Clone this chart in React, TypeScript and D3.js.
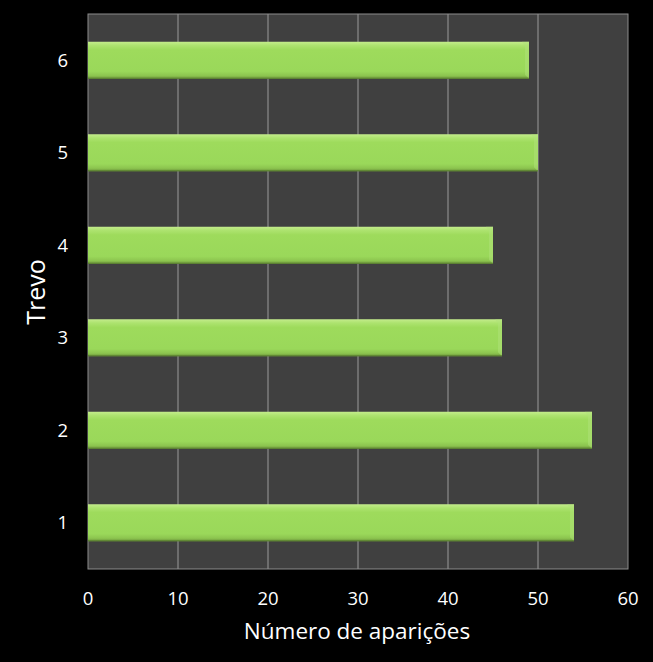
import { scaleBand, scaleLinear } from 'd3';

const categories = ['1', '2', '3', '4', '5', '6'];
const values = [54, 56, 46, 45, 50, 49];
const xTicks = [0, 10, 20, 30, 40, 50, 60];

export default function App() {
  const width = 653;
  const height = 662;
  const plot = { left: 88, right: 628, top: 14, bottom: 569 };

  const x = scaleLinear().domain([0, 60]).range([plot.left, plot.right]);
  const y = scaleBand()
    .domain(categories)
    .range([plot.bottom, plot.top])
    .paddingInner(0.6)
    .paddingOuter(0.3);

  const font = "'Open Sans', 'Noto Sans', sans-serif";

  return (
    <svg
      width={width}
      height={height}
      style={{ position: 'absolute', left: 0, top: 0, background: '#000' }}
    >
      <defs>
        <linearGradient id="barFill" x1="0" y1="0" x2="0" y2="1">
          <stop offset="0%" stopColor="#c4ec8c" />
          <stop offset="10%" stopColor="#ade36f" />
          <stop offset="22%" stopColor="#9edb5c" />
          <stop offset="80%" stopColor="#9ad85a" />
          <stop offset="92%" stopColor="#8cc44f" />
          <stop offset="100%" stopColor="#6a943a" />
        </linearGradient>
      </defs>
      <rect width={width} height={height} fill="#000" />
      {/* plot area */}
      <rect
        x={plot.left}
        y={plot.top}
        width={plot.right - plot.left}
        height={plot.bottom - plot.top}
        fill="#404040"
      />
      {xTicks.slice(1, -1).map((t) => (
        <line
          key={t}
          x1={x(t)}
          x2={x(t)}
          y1={plot.top}
          y2={plot.bottom}
          stroke="#9a9a9a"
          strokeWidth={1}
        />
      ))}
      <rect
        x={plot.left}
        y={plot.top}
        width={plot.right - plot.left}
        height={plot.bottom - plot.top}
        fill="none"
        stroke="#8c8c8c"
        strokeWidth={1}
      />
      {/* bars */}
      {categories.map((c, i) => {
        const by = y(c)!;
        const bh = y.bandwidth();
        const bx = x(0);
        const bw = x(values[i]) - x(0);
        return (
          <g key={c}>
            <rect x={bx} y={by} width={bw} height={bh} fill="url(#barFill)" />
            <polygon
              points={`${bx + bw - 7},${by} ${bx + bw},${by} ${bx + bw},${by + bh} ${bx + bw - 4},${by + bh - 4} ${bx + bw - 4},${by + 4}`}
              fill="#b0e27a"
              opacity={0.5}
            />
            <line
              x1={bx}
              x2={bx + bw}
              y1={by + bh - 0.5}
              y2={by + bh - 0.5}
              stroke="#5c8232"
              strokeWidth={1}
            />
          </g>
        );
      })}
      {/* y tick labels */}
      {categories.map((c) => (
        <text
          key={c}
          x={68}
          y={y(c)! + y.bandwidth() / 2}
          dy="0.36em"
          textAnchor="end"
          fill="#fff"
          fontFamily={font}
          fontSize={18.5}
        >
          {c}
        </text>
      ))}
      {/* x tick labels */}
      {xTicks.map((t) => (
        <text
          key={t}
          x={x(t)}
          y={605}
          textAnchor="middle"
          fill="#fff"
          fontFamily={font}
          fontSize={18.5}
        >
          {t}
        </text>
      ))}
      <text
        x={357}
        y={639}
        textAnchor="middle"
        fill="#fff"
        fontFamily={font}
        fontSize={22.5}
      >
        Número de aparições
      </text>
      <text
        transform={`translate(45, 292) rotate(-90)`}
        textAnchor="middle"
        fill="#fff"
        fontFamily={font}
        fontSize={25}
      >
        Trevo
      </text>
    </svg>
  );
}
